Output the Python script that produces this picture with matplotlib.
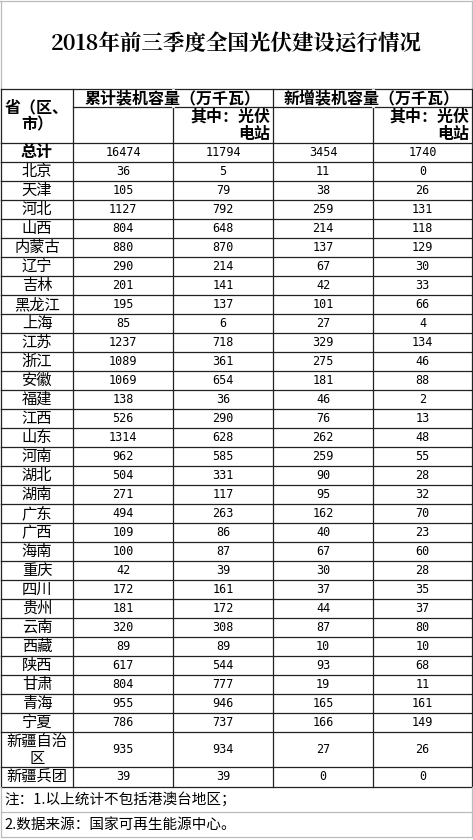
import matplotlib
matplotlib.use("Agg")
import matplotlib.pyplot as plt

plt.rcParams['font.family'] = ['Noto Sans CJK SC', 'DejaVu Sans']

title = "2018年前三季度全国光伏建设运行情况"
regions = ["总计","北京","天津","河北","山西","内蒙古","辽宁","吉林","黑龙江","上海","江苏","浙江","安徽","福建","江西","山东","河南","湖北","湖南","广东","广西","海南","重庆","四川","贵州","云南","西藏","陕西","甘肃","青海","宁夏","新疆自治\n区","新疆兵团"]
cum_total = [16474,36,105,1127,804,880,290,201,195,85,1237,1089,1069,138,526,1314,962,504,271,494,109,100,42,172,181,320,89,617,804,955,786,935,39]
cum_pv = [11794,5,79,792,648,870,214,141,137,6,718,361,654,36,290,628,585,331,117,263,86,87,39,161,172,308,89,544,777,946,737,934,39]
new_total = [3454,11,38,259,214,137,67,42,101,27,329,275,181,46,76,262,259,90,95,162,40,67,30,37,44,87,10,93,19,165,166,27,0]
new_pv = [1740,0,26,131,118,129,30,33,66,4,134,46,88,2,13,48,55,28,32,70,23,60,28,35,37,80,10,68,11,161,149,26,0]
notes = ["注：1.以上统计不包括港澳台地区；", "2.数据来源：国家可再生能源中心。"]

W, H = 473, 840
fig = plt.figure(figsize=(W/100, H/100), dpi=100)
ax = fig.add_axes([0, 0, 1, 1])
ax.set_xlim(0, W); ax.set_ylim(H, 0); ax.axis('off')

cols = [1, 73, 173, 273, 373, 472]
lc = '#222222'; lw = 0.9
def hline(y, x0, x1, c=lc): ax.plot([x0, x1], [y, y], color=c, lw=lw)
def vline(x, y0, y1, c=lc): ax.plot([x, x], [y0, y1], color=c, lw=lw)

ax.text(W/2, 45, title, ha='center', va='center', fontsize=15.5, fontweight='bold',
        family=['Noto Serif CJK SC', 'Noto Sans CJK SC', 'DejaVu Serif'])
gray = '#bbbbbb'
hline(1, 0, W, gray); vline(1, 1, 89, gray); vline(472, 1, 89, gray)

y0, y1, y2 = 89, 107, 143
hline(y0, 1, 472)
hline(y1, 73, 472)
for x in cols: vline(x, y0, y2)
ax.plot([173, 173], [y0+0.6, y1-0.6], color='white', lw=2)
ax.plot([373, 373], [y0+0.6, y1-0.6], color='white', lw=2)
hb = dict(fontsize=11.5, fontweight='bold', va='center')
ax.text(37, 116, "省（区、\n市）", ha='center', linespacing=1.1, **hb)
ax.text(173, 98, "累计装机容量（万千瓦）", ha='center', **hb)
ax.text(372, 98, "新增装机容量（万千瓦）", ha='center', **hb)
ax.text(270, 125, "其中：光伏\n电站", ha='right', multialignment='right', linespacing=1.1, **hb)
ax.text(469, 125, "其中：光伏\n电站", ha='right', multialignment='right', linespacing=1.1, **hb)

y = y2
rh = 19
for i, r in enumerate(regions):
    h = 35 if "\n" in r else (20 if i == len(regions)-1 else rh)
    yc = y + h/2
    bold = (i == 0)
    ax.text(37, yc, r, ha='center', va='center', fontsize=11.5 if bold else 11,
            fontweight='bold' if bold else 'normal', linespacing=1.0)
    for j, v in enumerate([cum_total[i], cum_pv[i], new_total[i], new_pv[i]]):
        ax.text((cols[j+1]+cols[j+2])/2, yc, str(v), ha='center', va='center',
                fontsize=8.5, family=['DejaVu Sans Mono'])
    hline(y, 1, 472)
    for x in cols: vline(x, y, y+h)
    y += h
hline(y, 1, 472)
ny = y
for k, n in enumerate(notes):
    ax.text(4, ny+12.5, n, ha='left', va='center', fontsize=10.5)
    ny += 25
    hline(ny, 1, 472, gray)
vline(1, y, ny, gray); vline(472, y, ny, gray)

fig.savefig("out.png", dpi=100)
